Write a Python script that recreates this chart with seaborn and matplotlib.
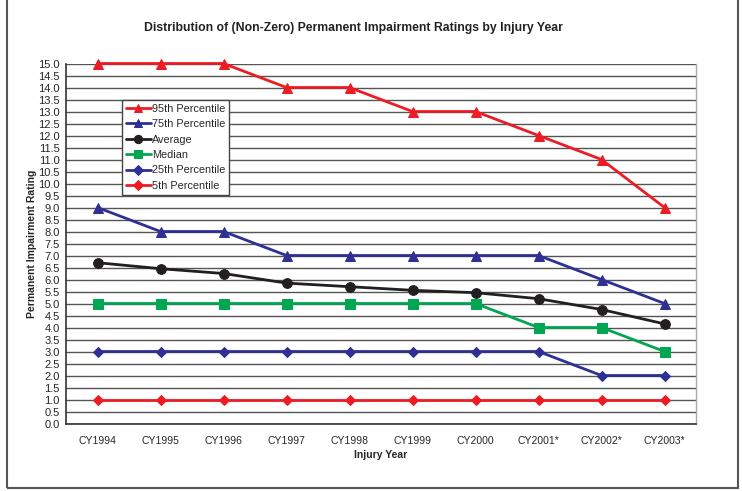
import numpy as np
import pandas as pd
import matplotlib
matplotlib.use("Agg")
import matplotlib.pyplot as plt
import seaborn as sns

# data
years = ["CY1994", "CY1995", "CY1996", "CY1997", "CY1998", "CY1999", "CY2000",
         "CY2001*", "CY2002*", "CY2003*"]
p95 = [15, 15, 15, 14, 14, 13, 13, 12, 11, 9]
p75 = [9, 8, 8, 7, 7, 7, 7, 7, 6, 5]
average = [6.7, 6.45, 6.25, 5.85, 5.7, 5.55, 5.45, 5.2, 4.75, 4.15]
median = [5, 5, 5, 5, 5, 5, 5, 4, 4, 3]
p25 = [3, 3, 3, 3, 3, 3, 3, 3, 2, 2]
p5 = [1, 1, 1, 1, 1, 1, 1, 1, 1, 1]

series = ["95th Percentile", "75th Percentile", "Average", "Median",
          "25th Percentile", "5th Percentile"]
values = [p95, p75, average, median, p25, p5]
colors = ["#ED1C24", "#2E3192", "#231F20", "#00A651", "#2E3192", "#ED1C24"]
markers = ["^", "^", "o", "s", "D", "D"]
msizes = [7, 7, 7, 7, 5.5, 5.5]

df = pd.DataFrame({
    "year": np.tile(np.arange(len(years)), len(series)),
    "value": np.concatenate(values),
    "series": np.repeat(series, len(years)),
})

sns.set_style("white")
plt.rcParams["font.family"] = ["Liberation Sans", "DejaVu Sans"]

fig = plt.figure(figsize=(7.42, 4.91), dpi=100)
ax = fig.add_axes([66 / 742, 1 - 423.5 / 491, (696 - 66) / 742, (423.5 - 63.5) / 491])

for name, col, mk, ms in zip(series, colors, markers, msizes):
    sub = df[df["series"] == name]
    sns.lineplot(data=sub, x="year", y="value", ax=ax, color=col, marker=mk,
                 markersize=ms, markeredgecolor=col, linewidth=2, label=name,
                 zorder=3, clip_on=False)

ax.set_xlim(-0.5, len(years) - 0.5)
ax.set_ylim(0, 15)
ax.set_yticks(np.arange(0, 15.01, 0.5))
ax.set_yticklabels([f"{v:.1f}" for v in np.arange(0, 15.01, 0.5)], fontsize=8)
ax.set_xticks(np.arange(len(years)))
ax.set_xticklabels(years, fontsize=7.5)
ax.set_xticks(np.arange(-0.5, len(years)), minor=True)
ax.tick_params(axis="x", which="major", length=0, pad=9)
ax.tick_params(axis="x", which="minor", length=4, width=1, color="#333333",
               direction="out")
ax.tick_params(axis="y", length=5, width=1, color="#333333", direction="inout", pad=2)
ax.yaxis.grid(True, color="#555555", linewidth=1)
ax.set_axisbelow(True)

for side in ["left", "bottom"]:
    ax.spines[side].set_color("#333333")
    ax.spines[side].set_linewidth(1.2)
ax.spines["top"].set_visible(False)
ax.spines["right"].set_color("#AAAAAA")
ax.spines["right"].set_linewidth(1)

ax.set_xlabel("Injury Year", fontsize=7.5, fontweight="bold", labelpad=3)
ax.set_ylabel("Permanent Impairment Rating", fontsize=7.5, fontweight="bold",
              labelpad=1)
fig.text(0.477, 1 - 28 / 491, "Distribution of (Non-Zero) Permanent Impairment Ratings by Injury Year",
         ha="center", va="center", fontsize=8.8, fontweight="bold", color="#222222")

leg = ax.legend(loc="upper left", bbox_to_anchor=((122 - 66) / 630, (423.5 - 100) / 360),
                fontsize=7.8, frameon=True, fancybox=False, edgecolor="#444444",
                framealpha=1, borderpad=0.35, labelspacing=0.5, handlelength=2.3,
                handletextpad=0.1, borderaxespad=0, markerscale=0.85)
leg.get_frame().set_linewidth(1)

# outer border round the chart
fig.add_artist(plt.Rectangle((7 / 742, 1 - 488 / 491), (737.5 - 7) / 742, 0.02 + 488 / 491,
                             transform=fig.transFigure, fill=False,
                             edgecolor="#555555", linewidth=1.5))

fig.savefig("out.png", dpi=100)
